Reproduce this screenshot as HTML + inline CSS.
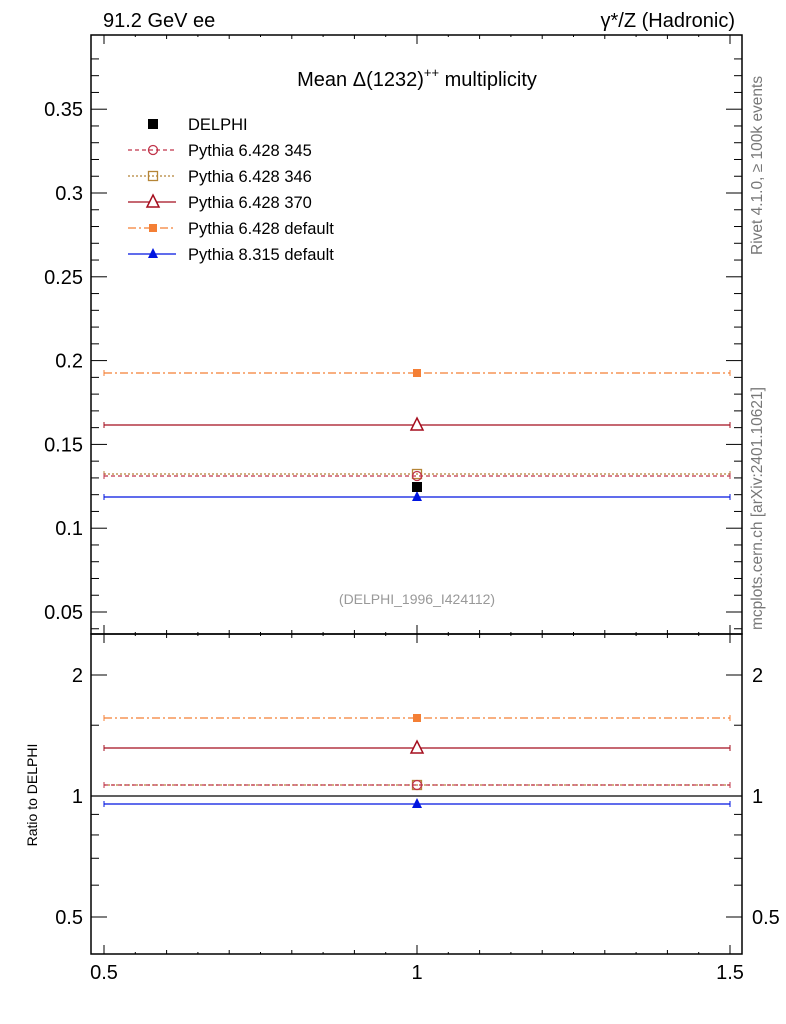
<!DOCTYPE html><html><head><style>body{margin:0;background:#fff}svg{display:block;font-family:"Liberation Sans",sans-serif}</style></head><body>
<svg id="s" width="786" height="1024" xmlns="http://www.w3.org/2000/svg">
<rect x="91" y="35" width="651" height="599" fill="none" stroke="#000" stroke-width="1.5"/>
<rect x="91" y="634" width="651" height="320" fill="none" stroke="#000" stroke-width="1.5"/>
<text x="103" y="27" font-size="20">91.2 GeV ee</text>
<text x="735" y="27" font-size="20" text-anchor="end">γ*/Z (Hadronic)</text>
<text x="417" y="86" font-size="20" text-anchor="middle">Mean Δ(1232)<tspan dy="-9" font-size="13">++</tspan><tspan dy="9"> multiplicity</tspan></text>
<text x="417" y="604" font-size="14" fill="#999" text-anchor="middle">(DELPHI_1996_I424112)</text>
<text transform="translate(762,255) rotate(-90)" font-size="15.5" fill="#777">Rivet 4.1.0, ≥ 100k events</text>
<text transform="translate(762,630) rotate(-90)" font-size="15.5" fill="#777">mcplots.cern.ch [arXiv:2401.10621]</text>
<text transform="translate(37,795) rotate(-90)" font-size="14" text-anchor="middle">Ratio to DELPHI</text>
<g id="g"></g>
</svg>
<script>
const g=document.getElementById('g');let h='';
const L=(x1,y1,x2,y2,c='#000',w=1,d='')=>h+=`<line x1="${x1}" y1="${y1}" x2="${x2}" y2="${y2}" stroke="${c}" stroke-width="${w}" ${d?`stroke-dasharray="${d}"`:''}/>`;
const T=(x,y,t,a='end',s=20)=>h+=`<text x="${x}" y="${y}" font-size="${s}" text-anchor="${a}">${t}</text>`;
const X=v=>104+(v-0.5)*626, Ym=v=>695.8-1676*v, Yr=r=>796-121*Math.log2(r);
for(let i=4;i<=38;i++){const v=i/100,y=Ym(v);if(y<35||y>634)continue;const M=i%5==0;const l=M?16:8;L(91,y,91+l,y);L(742,y,742-l,y);if(M&&i>=5)T(83,y+7,(+v.toFixed(2)).toString());}
[0.5,0.6,0.7,0.8,0.9,1,1.5,2].forEach(r=>{const y=Yr(r),M=[0.5,1,2].includes(r),l=M?16:8;L(91,y,91+l,y);L(742,y,742-l,y);if(M){T(83,y+7,r);T(752,y+7,r,'start');}});
for(let i=0;i<=20;i++){const v=0.5+i*0.05,x=X(v),M=i%10==0,l=M?9:(i%2==0?4:2);L(x,954,x,954-l);L(x,634,x,634-l);L(x,35,x,35+l);L(x,634,x,634+l);}
T(104,979,'0.5','middle');T(417,979,'1','middle');T(730,979,'1.5','middle');
const S=[['#f47f35',373,718,'8,3,2,3','sq'],['#a50f1f',425,748,'','tri'],['#b58537',474,785,'2,2','box'],['#c0344a',476,785,'4,3','circ'],['#0015e0',497,804,'','ftri']];
const mk=(t,x,y,c)=>{if(t=='sq')h+=`<rect x="${x-4}" y="${y-4}" width="8" height="8" fill="${c}"/>`;if(t=='tri')h+=`<path d="M${x},${y-7}L${x+6},${y+5}L${x-6},${y+5}Z" fill="#fff" stroke="${c}" stroke-width="1.5"/>`;if(t=='box')h+=`<rect x="${x-4.5}" y="${y-4.5}" width="9" height="9" fill="none" stroke="${c}" stroke-width="1.3"/>`;if(t=='circ')h+=`<circle cx="${x}" cy="${y}" r="4.5" fill="none" stroke="${c}" stroke-width="1.3"/>`;if(t=='ftri')h+=`<path d="M${x},${y-6}L${x+5},${y+4}L${x-5},${y+4}Z" fill="${c}"/>`;if(t=='blk')h+=`<rect x="${x-5}" y="${y-5}" width="10" height="10" fill="#000"/>`;};
S.forEach(s=>{[s[1],s[2]].forEach(y=>{L(104,y,730,y,s[0],1.3,s[3]);L(104,y-3,104,y+3,s[0]);L(730,y-3,730,y+3,s[0]);mk(s[4],417,y,s[0]);});});
L(91,796,742,796,'#000',1.3);mk('blk',417,487,'#000');
const lg=[['blk','#000','','DELPHI'],['circ','#c0344a','4,3','Pythia 6.428 345'],['box','#b58537','2,2','Pythia 6.428 346'],['tri','#a50f1f','','Pythia 6.428 370'],['sq','#f47f35','8,3,2,3','Pythia 6.428 default'],['ftri','#0015e0','','Pythia 8.315 default']];
lg.forEach((e,i)=>{const y=124+i*26;if(i>0)L(128,y,176,y,e[1],1.3,e[2]);mk(e[0],153,y,e[1]);T(188,y+6,e[3],'start',16.5);});
g.innerHTML=h;
</script></body></html>
